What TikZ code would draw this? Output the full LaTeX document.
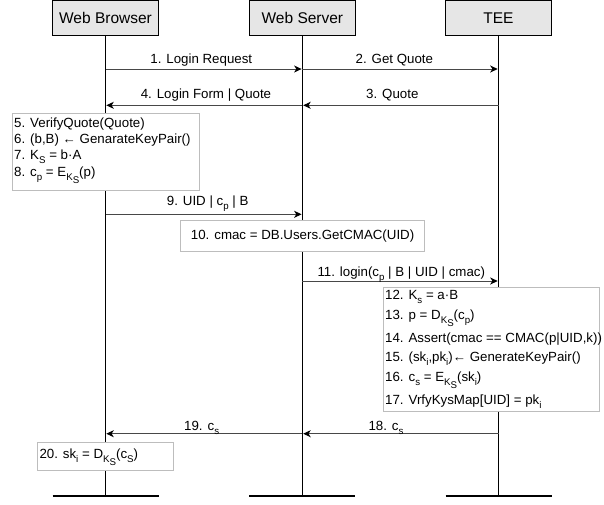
\documentclass[tikz,border=0pt]{standalone}
\usepackage{fontspec}
\setmainfont{Liberation Sans}
\usetikzlibrary{arrows.meta}

\definecolor{headgrey}{HTML}{E6E6E6}
\definecolor{notegrey}{HTML}{BDBDBD}
% lowered, smaller script text (nests for K_S inside a subscript)
\newcommand\sbs[1]{\raisebox{-3.6pt}{\fontsize{9.7}{10}\selectfont #1}}

\begin{document}
\begin{tikzpicture}[x=1pt,y=-1pt,
  actor/.style={draw=black, line width=1.3pt, fill=headgrey,
    minimum width=106pt, minimum height=34.6pt, inner sep=0pt,
    font=\fontsize{15.5}{18}\selectfont},
  life/.style={line width=1.6pt},
  endbar/.style={line width=2pt},
  msg/.style={draw=black!72, line width=0.95pt, shorten >=0.8pt,
    -{Stealth[length=7.5pt,width=7pt,inset=2.2pt,color=black]}},
  note/.style={draw=notegrey, fill=white, line width=1pt, inner sep=0pt},
  txt/.style={inner sep=0pt, anchor=west, text height=9.5pt, text depth=0pt,
    font=\fontsize{13.3}{16}\selectfont},
]
\useasboundingbox (0,0) rectangle (604,504);

% participants
\node[actor] (wb) at (105.5,18) {Web Browser};
\node[actor] (ws) at (302.4,18) {Web Server};
\node[actor] (tee) at (498.5,18) {TEE};

% ends of the lifelines
\coordinate (wbend) at (105.5,496);
\coordinate (wsend) at (302.4,496);
\coordinate (teeend) at (498.5,496);

\draw[life] (wb.south) -- (wbend);
\draw[life] (ws.south) -- (wsend);
\draw[life] (tee.south) -- (teeend);
\draw[endbar] ([xshift=-53pt]wbend) -- ([xshift=53pt]wbend);
\draw[endbar] ([xshift=-53pt]wsend) -- ([xshift=53pt]wsend);
\draw[endbar] ([xshift=-53pt]teeend) -- ([xshift=53pt]teeend);

% messages
\draw[msg] (wb |- 0,69) -- (ws |- 0,69);
\draw[msg] (ws |- 0,69) -- (tee |- 0,69);
\draw[msg] (tee |- 0,105.3) -- (ws |- 0,105.3);
\draw[msg] (ws |- 0,105.3) -- (wb |- 0,105.3);
\draw[msg] (wb |- 0,214.3) -- (ws |- 0,214.3);
\draw[msg] (ws |- 0,281) -- (tee |- 0,281);
\draw[msg] (tee |- 0,433.7) -- (ws |- 0,433.7);
\draw[msg] (ws |- 0,433.7) -- (wb |- 0,433.7);

\node[txt] (m1) at (150.2,58.3) {1. Login Request};
\node[txt] (m2) at (355.5,58.3) {2. Get Quote};
\node[txt] (m4) at (140.6,93.3) {4. Login Form | Quote};
\node[txt] (m3) at (366,93.3) {3. Quote};
\node[txt] (m9) at (166.7,201) {9. UID | c\sbs{p} | B};
\node[txt] (m11) at (317.3,271.7) {11. login(c\sbs{p} | B | UID | cmac)};
\node[txt] (m18) at (368.3,426) {18. c\sbs{s}};
\node[txt] (m19) at (184,426) {19. c\sbs{s}};

% browser computation 5-8
\node[note, minimum width=187pt, minimum height=76.7pt] (b58) at (105.8,151.7) {};
\node[txt] (l5) at (14,123) {5. VerifyQuote(Quote)};
\node[txt] (l6) at (14,139) {6. (b,B) ← GenarateKeyPair()};
\node[txt] (l7) at (14,155) {7. K\sbs{S} = b·A};
\node[txt] (l8) at (14,172) {8. c\sbs{p} = E\sbs{K\sbs{S}}(p)};

% server lookup 10
\node[note, minimum width=243.3pt, minimum height=31pt] (b10) at (302.6,235.5) {};
\node[txt, anchor=center] (l10) at (302.6,235) {10. cmac = DB.Users.GetCMAC(UID)};

% enclave computation 12-17
\node[note, minimum width=216pt, minimum height=124pt] (b1217) at (491.4,349.2) {};
\node[txt] (l12) at (385,295) {12. K\sbs{s} = a·B};
\node[txt] (l13) at (385,315) {13. p = D\sbs{K\sbs{S}}(c\sbs{p})};
\node[txt] (l14) at (385,338) {14. Assert(cmac == CMAC(p|UID,k))};
\node[txt] (l15) at (385,357) {15. (sk\sbs{i},pk\sbs{i})← GenerateKeyPair()};
\node[txt] (l16) at (385,377) {16. c\sbs{s} = E\sbs{K\sbs{S}}(sk\sbs{i})};
\node[txt] (l17) at (385,400) {17. VrfyKysMap[UID] = pk\sbs{i}};

% browser decryption 20
\node[note, minimum width=136.3pt, minimum height=27.7pt] (b20) at (105.8,456.2) {};
\node[txt] (l20) at (39.3,454) {20. sk\sbs{i} = D\sbs{K\sbs{S}}(c\sbs{S})};
\end{tikzpicture}
\end{document}
